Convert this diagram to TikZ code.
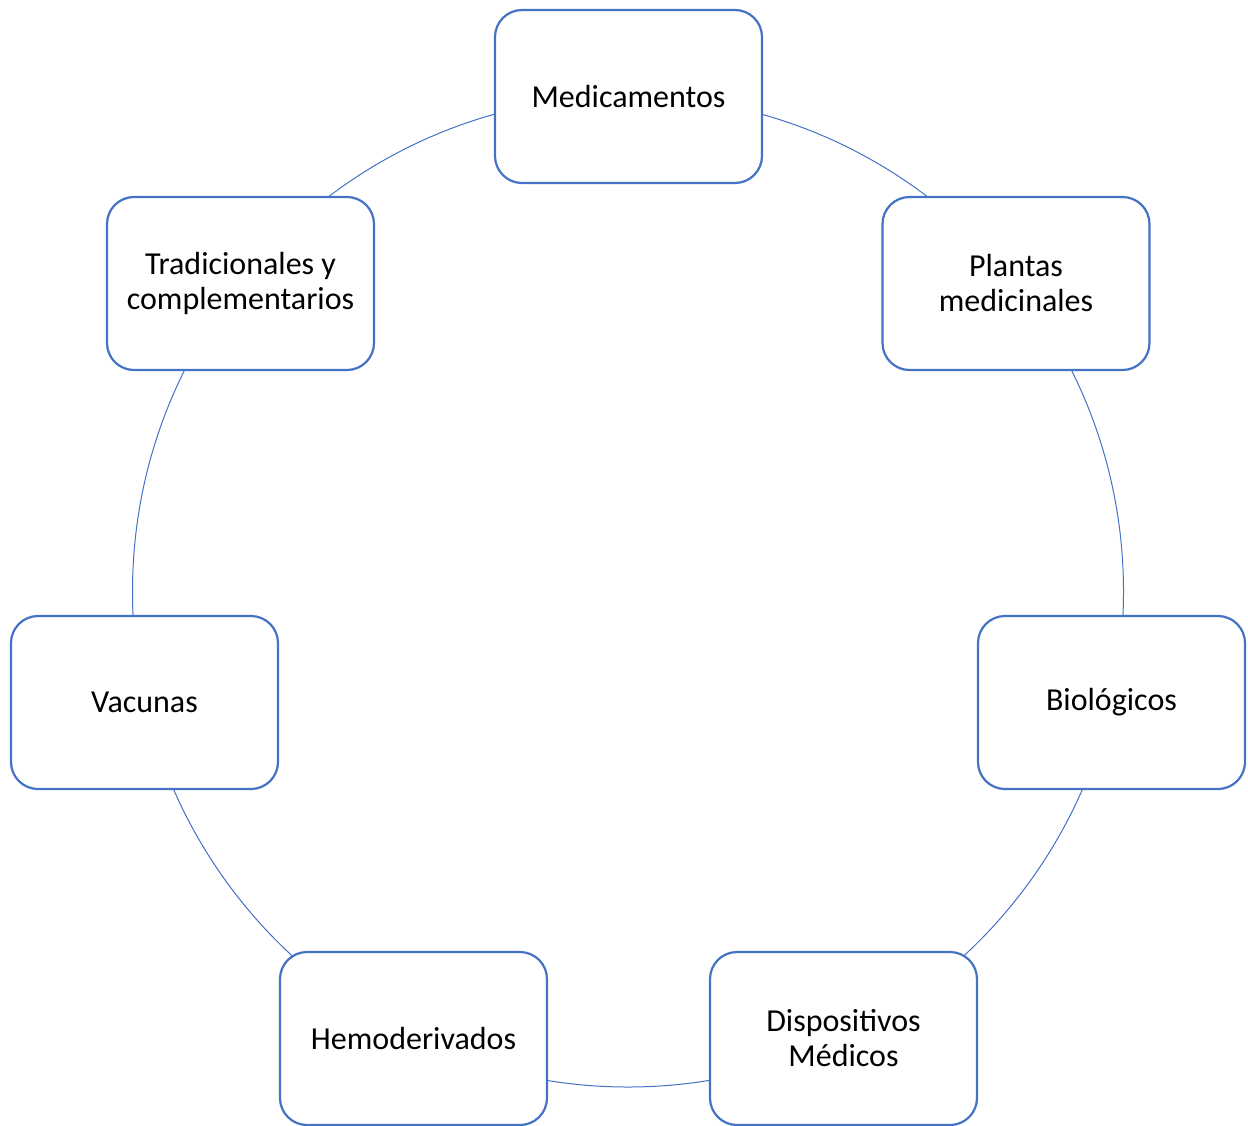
\documentclass[tikz,border=0pt]{standalone}
\usepackage{fontspec}
\setmainfont{Carlito}
\definecolor{smblue}{HTML}{4472C4}
\begin{document}
\begin{tikzpicture}[x=1pt,y=-1pt,
  item/.style={draw=smblue, line width=2.2pt, fill=white, rounded corners=27pt,
    minimum width=267pt, minimum height=173pt, inner sep=0pt, align=center,
    font=\fontsize{32}{35}\selectfont, text=black},
  ring/.style={draw=smblue, line width=1pt}]
\useasboundingbox (0,0) rectangle (1248,1125);
\coordinate (c) at (628,591.5);
\draw[ring] (c) circle (495.5pt);
\node[item] (med) at (628.5,96.5) {Medicamentos};
\node[item] (pla) at (1016,283.5) {Plantas\\medicinales};
\node[item] (bio) at (1111.5,702.5) {Biológicos};
\node[item] (dis) at (843.5,1038.5) {Dispositivos\\Médicos};
\node[item] (hem) at (413.5,1038.5) {Hemoderivados};
\node[item] (vac) at (144.5,702.5) {Vacunas};
\node[item] (tra) at (240.5,283.5) {Tradicionales y\\complementarios};
\end{tikzpicture}
\end{document}
